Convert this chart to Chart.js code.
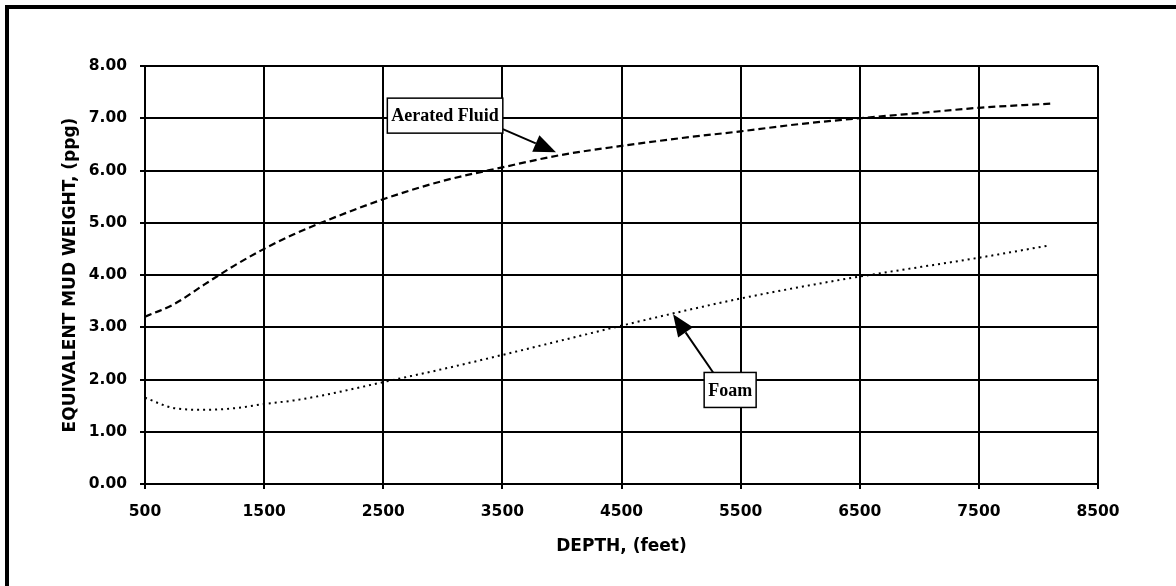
<!DOCTYPE html>
<html>
<head>
<meta charset="utf-8">
<script src="https://cdn.jsdelivr.net/npm/chart.js@4/dist/chart.umd.min.js"></script>
<style>
  html, body { margin: 0; padding: 0; background: #fff; }
  #wrap { width: 1176px; height: 586px; }
</style>
</head>
<body>
<div id="wrap"><canvas id="mudChart" width="1176" height="586"></canvas></div>
<script>
// depth (feet) sample points
const depths = [500, 750, 1000, 1250, 1500, 1750, 2000, 2500, 3000, 3500, 4000, 4500, 5000, 5500, 6000, 6500, 7000, 7500, 8100];
const aeratedFluid = [3.20, 3.45, 3.82, 4.18, 4.50, 4.78, 5.02, 5.45, 5.80, 6.06, 6.30, 6.47, 6.62, 6.75, 6.89, 7.00, 7.10, 7.20, 7.28];
const foam = [1.65, 1.45, 1.42, 1.45, 1.53, 1.60, 1.70, 1.95, 2.20, 2.47, 2.75, 3.03, 3.30, 3.55, 3.77, 3.97, 4.15, 4.33, 4.57];

const xTicks = [500, 1500, 2500, 3500, 4500, 5500, 6500, 7500, 8500];
const yTicks = [0, 1, 2, 3, 4, 5, 6, 7, 8];

// callout labels, positioned in data units
const callouts = [
  { text: 'Aerated Fluid', at: [3019, 7.05], tip: [3950, 6.35], from: 'rightBottom' },
  { text: 'Foam', at: [5412, 1.80], tip: [4933, 3.25], from: 'top' }
];

function toPoints(xs, ys) {
  return xs.map((x, i) => ({ x: x, y: ys[i] }));
}

const framePlugin = {
  id: 'frame',
  beforeDraw(chart) {
    const ctx = chart.ctx;
    ctx.save();
    ctx.fillStyle = '#fff';
    ctx.fillRect(0, 0, chart.width, chart.height);
    ctx.fillStyle = '#000';
    ctx.fillRect(5, 5, chart.width - 5, 4);
    ctx.fillRect(5, 5, 4, chart.height - 5);
    ctx.restore();
  }
};

const calloutPlugin = {
  id: 'callouts',
  afterDatasetsDraw(chart) {
    const ctx = chart.ctx;
    const xs = chart.scales.x, ys = chart.scales.y;
    ctx.save();
    ctx.font = 'bold 18px "Liberation Serif", "Times New Roman", serif';
    callouts.forEach(c => {
      const cx = xs.getPixelForValue(c.at[0]);
      const cy = ys.getPixelForValue(c.at[1]);
      const w = ctx.measureText(c.text).width + 8;
      const h = 35;
      const left = cx - w / 2, top = cy - h / 2;

      const tx = xs.getPixelForValue(c.tip[0]);
      const ty = ys.getPixelForValue(c.tip[1]);
      let sx, sy;
      if (c.from === 'rightBottom') { sx = left + w; sy = top + h - 4; }
      else { sx = left + 9; sy = top; }

      // arrow shaft
      const ang = Math.atan2(ty - sy, tx - sx);
      const headLen = 22, headW = 9;
      const bx = tx - Math.cos(ang) * headLen, by = ty - Math.sin(ang) * headLen;
      ctx.strokeStyle = '#000';
      ctx.lineWidth = 2;
      ctx.beginPath();
      ctx.moveTo(sx, sy);
      ctx.lineTo(bx, by);
      ctx.stroke();
      // arrow head
      ctx.fillStyle = '#000';
      ctx.beginPath();
      ctx.moveTo(tx, ty);
      ctx.lineTo(bx + Math.sin(ang) * headW, by - Math.cos(ang) * headW);
      ctx.lineTo(bx - Math.sin(ang) * headW, by + Math.cos(ang) * headW);
      ctx.closePath();
      ctx.fill();

      // label box
      ctx.fillStyle = '#fff';
      ctx.fillRect(left, top, w, h);
      ctx.lineWidth = 1.5;
      ctx.strokeRect(left, top, w, h);
      ctx.fillStyle = '#000';
      ctx.textAlign = 'center';
      ctx.textBaseline = 'middle';
      ctx.fillText(c.text, cx, cy + 1);
    });
    ctx.restore();
  }
};

const tickFont = { family: '"DejaVu Sans", sans-serif', size: 15.5, weight: 'bold' };
const titleFont = { family: '"DejaVu Sans", sans-serif', size: 17, weight: 'bold' };

new Chart(document.getElementById('mudChart'), {
  type: 'line',
  data: {
    datasets: [
      {
        label: 'Aerated Fluid',
        data: toPoints(depths, aeratedFluid),
        borderColor: '#000',
        borderWidth: 2.2,
        borderDash: [7, 4],
        pointRadius: 0,
        fill: false,
        cubicInterpolationMode: 'monotone'
      },
      {
        label: 'Foam',
        data: toPoints(depths, foam),
        borderColor: '#000',
        borderWidth: 2,
        borderDash: [2, 4],
        pointRadius: 0,
        fill: false,
        cubicInterpolationMode: 'monotone'
      }
    ]
  },
  options: {
    responsive: false,
    animation: false,
    layout: { padding: { left: 0, top: 66, right: 78, bottom: 0 } },
    plugins: {
      legend: { display: false },
      tooltip: { enabled: false }
    },
    scales: {
      x: {
        type: 'linear',
        min: 500,
        max: 8500,
        afterBuildTicks: scale => { scale.ticks = xTicks.map(v => ({ value: v })); },
        afterFit: scale => { scale.height = 102; },
        ticks: {
          color: '#000',
          font: tickFont,
          padding: 14,
          maxRotation: 0,
          callback: v => String(v)
        },
        grid: { color: '#000', lineWidth: 2, tickLength: 5 },
        border: { color: '#000', width: 2 },
        title: {
          display: true,
          text: 'DEPTH, (feet)',
          color: '#000',
          font: titleFont,
          padding: { top: 0, bottom: 29 }
        }
      },
      y: {
        min: 0,
        max: 8,
        afterBuildTicks: scale => { scale.ticks = yTicks.map(v => ({ value: v })); },
        afterFit: scale => { scale.width = 145; },
        ticks: {
          color: '#000',
          font: tickFont,
          padding: 13,
          callback: v => Number(v).toFixed(2)
        },
        grid: { color: '#000', lineWidth: 2, tickLength: 5 },
        border: { color: '#000', width: 2 },
        title: {
          display: true,
          text: 'EQUIVALENT MUD WEIGHT, (ppg)',
          color: '#000',
          font: titleFont,
          padding: { top: 60, bottom: 0 }
        }
      }
    }
  },
  plugins: [framePlugin, calloutPlugin]
});
</script>
</body>
</html>
